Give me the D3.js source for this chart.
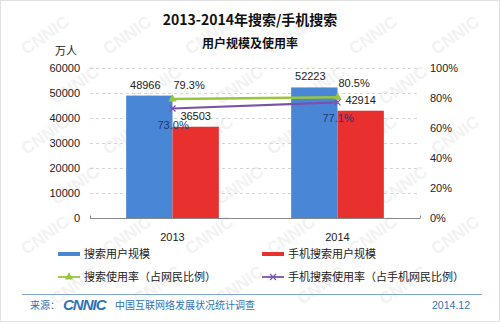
<!DOCTYPE html>
<html>
<head>
<meta charset="utf-8">
<script src="https://cdn.jsdelivr.net/npm/d3@7/dist/d3.min.js"></script>
<style>
  html, body { margin: 0; padding: 0; background: #fff; }
  svg { display: block; }
  text { font-family: "Liberation Sans", Arial, "Noto Sans CJK SC", sans-serif; }
  .cjk { font-family: "Noto Sans CJK SC", "Liberation Sans", sans-serif; }
</style>
</head>
<body>
<svg id="chart" width="500" height="322"></svg>
<script>
// Years on the x axis
const years = ["2013", "2014"];
// User counts (unit: 万人)
const searchUsers = [48966, 52223];
const mobileSearchUsers = [36503, 42914];
// Usage rates (%)
const searchRate = [79.3, 80.5];
const mobileSearchRate = [73.0, 77.1];
// Axis tick labels
const leftTicks = [0, 10000, 20000, 30000, 40000, 50000, 60000];
const rightTicks = [0, 20, 40, 60, 80, 100];

const svg = d3.select("#chart");
const W = 500, H = 322;
const m = { left: 90, right: 80, top: 68, bottom: 104 };
const plotW = W - m.left - m.right;   // 330
const plotH = H - m.top - m.bottom;   // 150

const BLUE = "#4a86d6", RED = "#e8302f", GREEN = "#9bc53d", PURPLE = "#7a52aa";

// frame
svg.append("rect").attr("x", 0.5).attr("y", 0.5).attr("width", W - 1).attr("height", H - 1)
  .attr("fill", "#fff").attr("stroke", "#e2e2e2");

// faint watermark, kept inside the frame
const wm = svg.append("g").attr("fill", "#f2f2f2").attr("font-size", 17).attr("font-weight", "bold")
  .attr("text-anchor", "middle");
for (let r = 0; r < 6; r++) {
  for (let c = 0; c < 6; c++) {
    const cxw = 45 + c * 82 + (r % 2) * 30;
    const cyw = 35 + r * 50;
    if (cxw > 460) continue;
    wm.append("text")
      .attr("transform", `translate(${cxw},${cyw}) rotate(-35)`)
      .attr("dy", "0.35em")
      .text("CNNIC");
  }
}

const x0 = d3.scaleBand().domain(years).range([m.left, m.left + plotW]);
const x1 = d3.scaleBand().domain(["s", "m"]).range([0, x0.bandwidth()]).paddingOuter(0.78).paddingInner(0);
const y = d3.scaleLinear().domain([0, 60000]).range([m.top + plotH, m.top]);
const yr = d3.scaleLinear().domain([0, 100]).range([m.top + plotH, m.top]);

// title
svg.append("text").attr("class", "cjk").attr("x", 250).attr("y", 25).attr("text-anchor", "middle")
  .attr("font-size", 14).attr("font-weight", "bold").attr("fill", "#111").text("2013-2014年搜索/手机搜索");
svg.append("text").attr("class", "cjk").attr("x", 250).attr("y", 48).attr("text-anchor", "middle")
  .attr("font-size", 12).attr("font-weight", "bold").attr("fill", "#111").text("用户规模及使用率");
svg.append("text").attr("class", "cjk").attr("x", 66).attr("y", 55).attr("text-anchor", "middle")
  .attr("font-size", 11).attr("fill", "#222").text("万人");

// gridlines
svg.append("g").selectAll("line").data(leftTicks.filter(d => d > 0)).join("line")
  .attr("x1", m.left).attr("x2", m.left + plotW)
  .attr("y1", d => Math.round(y(d)) + 0.5).attr("y2", d => Math.round(y(d)) + 0.5)
  .attr("stroke", "#d4d4d4").attr("stroke-dasharray", "3,3");

// left axis
const yAxis = d3.axisLeft(y).tickValues(leftTicks).tickSize(0).tickPadding(10).tickFormat(d3.format("d"));
const gl = svg.append("g").attr("transform", `translate(${m.left},0)`).call(yAxis);
gl.select(".domain").remove();
gl.selectAll("text").attr("font-size", 11).attr("fill", "#222");

// right axis
const rAxis = d3.axisRight(yr).tickValues(rightTicks).tickSize(0).tickPadding(10).tickFormat(d => d + "%");
const gr = svg.append("g").attr("transform", `translate(${m.left + plotW},0)`).call(rAxis);
gr.select(".domain").remove();
gr.selectAll("text").attr("font-size", 11).attr("fill", "#222");

// bars
const bars = svg.append("g");
years.forEach((yr0, i) => {
  bars.append("rect").attr("x", x0(yr0) + x1("s")).attr("width", x1.bandwidth())
    .attr("y", y(searchUsers[i])).attr("height", y(0) - y(searchUsers[i])).attr("fill", BLUE);
  bars.append("rect").attr("x", x0(yr0) + x1("m")).attr("width", x1.bandwidth())
    .attr("y", y(mobileSearchUsers[i])).attr("height", y(0) - y(mobileSearchUsers[i])).attr("fill", RED);
});

// baseline
const base = Math.round(y(0)) + 0.5;
svg.append("line").attr("x1", m.left).attr("x2", m.left + plotW).attr("y1", base).attr("y2", base).attr("stroke", "#888");
[m.left, m.left + plotW].forEach(xx => {
  svg.append("line").attr("x1", xx + 0.5).attr("x2", xx + 0.5).attr("y1", base - 3).attr("y2", base).attr("stroke", "#888");
});

// rate lines
const cx = d => x0(d) + x0.bandwidth() / 2;
const line = d3.line().x(d => cx(d[0])).y(d => yr(d[1]));
svg.append("path").datum(years.map((d, i) => [d, mobileSearchRate[i]]))
  .attr("d", line).attr("fill", "none").attr("stroke", PURPLE).attr("stroke-width", 2.2);
svg.append("path").datum(years.map((d, i) => [d, searchRate[i]]))
  .attr("d", line).attr("fill", "none").attr("stroke", GREEN).attr("stroke-width", 2.6);

// markers
const tri = d3.symbol().type(d3.symbolTriangle).size(30);
years.forEach((d, i) => {
  svg.append("path").attr("d", tri()).attr("transform", `translate(${cx(d)},${yr(searchRate[i])})`).attr("fill", GREEN);
  const px = cx(d), py = yr(mobileSearchRate[i]);
  svg.append("path").attr("d", `M${px - 3},${py - 3}L${px + 3},${py + 3}M${px - 3},${py + 3}L${px + 3},${py - 3}`)
    .attr("stroke", PURPLE).attr("stroke-width", 1.3);
});

// value labels
const lbl = svg.append("g").attr("font-size", 11);
years.forEach((d, i) => {
  const bs = x0(d) + x1("s"), bm = x0(d) + x1("m");
  lbl.append("text").attr("x", bs + x1.bandwidth() / 2 - 4).attr("y", y(searchUsers[i]) - 7)
    .attr("text-anchor", "middle").attr("fill", "#222").text(searchUsers[i]);
  lbl.append("text").attr("x", bm + x1.bandwidth() / 2).attr("y", y(mobileSearchUsers[i]) - 7)
    .attr("text-anchor", "middle").attr("fill", "#222").text(mobileSearchUsers[i]);
  lbl.append("text").attr("x", cx(d) + 1).attr("y", yr(searchRate[i]) - 10)
    .attr("fill", "#222").text(searchRate[i].toFixed(1) + "%");
  lbl.append("text").attr("x", cx(d) - 15).attr("y", yr(mobileSearchRate[i]) + 20)
    .attr("fill", "#1f3a6a").text(mobileSearchRate[i].toFixed(1) + "%");
});

// x labels
svg.append("g").selectAll("text").data(years).join("text")
  .attr("x", d => cx(d)).attr("y", 241).attr("text-anchor", "middle")
  .attr("font-size", 11).attr("fill", "#222").text(d => d);

// legend
const leg = svg.append("g").attr("class", "cjk").attr("font-size", 11).attr("fill", "#222");
const items = [
  { x: 58, y: 254, c: BLUE, t: "搜索用户规模", k: "bar" },
  { x: 262, y: 254, c: RED, t: "手机搜索用户规模", k: "bar" },
  { x: 58, y: 277, c: GREEN, t: "搜索使用率（占网民比例）", k: "tri" },
  { x: 262, y: 277, c: PURPLE, t: "手机搜索使用率（占手机网民比例）", k: "x" }
];
items.forEach(it => {
  if (it.k === "bar") {
    leg.append("rect").attr("x", it.x).attr("y", it.y - 2).attr("width", 22).attr("height", 4).attr("fill", it.c);
  } else {
    leg.append("line").attr("x1", it.x).attr("x2", it.x + 22).attr("y1", it.y).attr("y2", it.y)
      .attr("stroke", it.c).attr("stroke-width", 1.8);
    const mx = it.x + 11;
    if (it.k === "tri") {
      leg.append("path").attr("d", tri()).attr("transform", `translate(${mx},${it.y})`).attr("fill", it.c);
    } else {
      leg.append("path").attr("d", `M${mx - 3},${it.y - 3}L${mx + 3},${it.y + 3}M${mx - 3},${it.y + 3}L${mx + 3},${it.y - 3}`)
        .attr("stroke", it.c).attr("stroke-width", 1.2);
    }
  }
  leg.append("text").attr("x", it.x + 26).attr("y", it.y + 4).text(it.t);
});

// footer
svg.append("line").attr("x1", 22).attr("x2", 482).attr("y1", 294.5).attr("y2", 294.5)
  .attr("stroke", "#7fa6cf").attr("stroke-width", 1);
const FOOT = "#2f72b8";
svg.append("text").attr("class", "cjk").attr("x", 30).attr("y", 309).attr("font-size", 10).attr("fill", FOOT).text("来源：");
svg.append("text").attr("x", 63).attr("y", 310).attr("font-size", 15).attr("font-weight", "bold")
  .attr("font-style", "italic").attr("letter-spacing", -1).attr("fill", FOOT).text("CNNIC");
svg.append("text").attr("class", "cjk").attr("x", 115).attr("y", 309).attr("font-size", 10).attr("fill", FOOT).text("中国互联网络发展状况统计调查");
svg.append("text").attr("x", 470).attr("y", 309).attr("text-anchor", "end").attr("font-size", 10.5).attr("fill", FOOT).text("2014.12");
</script>
</body>
</html>
